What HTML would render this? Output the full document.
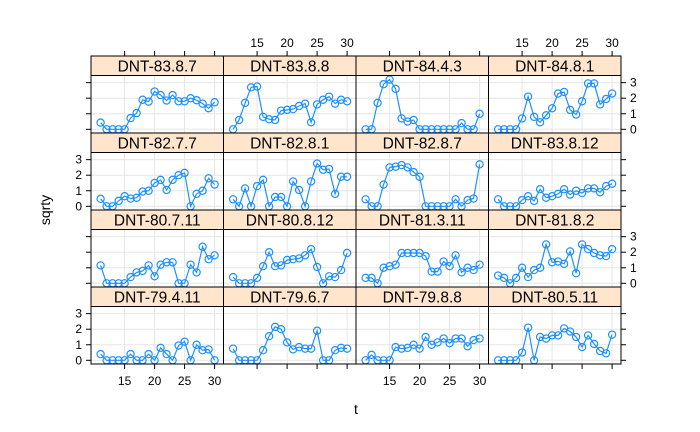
<!DOCTYPE html>
<html><head><meta charset="utf-8"><style>
body{margin:0;background:#fff;}
svg{display:block;font-family:"Liberation Sans",sans-serif;}
</style></head><body>
<svg id="chart" width="700" height="432" viewBox="0 0 700 432"></svg>
<script>
const tValues=[11,12,13,14,15,16,17,18,19,20,21,22,23,24,25,26,27,28,29,30];
const panelNames=["DNT-83.8.7","DNT-83.8.8","DNT-84.4.3","DNT-84.8.1","DNT-82.7.7","DNT-82.8.1","DNT-82.8.7","DNT-83.8.12","DNT-80.7.11","DNT-80.8.12","DNT-81.3.11","DNT-81.8.2","DNT-79.4.11","DNT-79.6.7","DNT-79.8.8","DNT-80.5.11"];
const s0=[0.43,0,0,0,0,0.72,1.04,1.9,1.78,2.43,2.2,1.85,2.2,1.8,1.8,2.0,1.87,1.65,1.35,1.74];
const s1=[0,0.6,1.7,2.7,2.75,0.8,0.65,0.6,1.2,1.25,1.3,1.5,1.65,0.45,1.6,1.9,2.1,1.65,1.9,1.8];
const s2=[0,0,1.7,2.9,3.2,2.6,0.7,0.5,0.6,0,0,0,0,0,0,0,0.4,0,0,1.0];
const s3=[0,0,0,0,0.7,2.1,0.8,0.45,0.9,1.35,2.3,2.4,1.25,0.95,1.8,2.95,2.95,1.6,1.95,2.3];
const s4=[0.48,0,0,0.35,0.65,0.5,0.55,0.95,1.0,1.5,1.7,1.05,1.7,2.0,2.15,0,0.8,1.0,1.8,1.4];
const s5=[0.45,0,1.15,0,1.3,1.7,0,0.6,0.6,0,1.6,1.05,0,1.6,2.75,2.35,2.4,0.8,1.9,1.9];
const s6=[0.45,0,0,1.4,2.5,2.55,2.65,2.5,2.2,1.9,0,0,0,0,0,0.45,0,0.4,0.5,2.7];
const s7=[0.45,0,0,0,0.4,0.65,0.35,1.1,0.55,0.65,0.8,1.1,0.75,1.0,0.85,1.15,1.15,0.9,1.3,1.45];
const s8=[1.15,0,0,0,0,0.4,0.7,0.8,1.15,0.45,1.2,1.35,1.35,0,0,1.2,0.7,2.35,1.55,1.8];
const s9=[0.4,0,0,0,0.35,1.1,2.0,1.1,1.15,1.5,1.55,1.6,1.8,2.2,1.05,0,0.45,0.4,0.85,1.95];
const s10=[0.35,0.35,0,1.0,1.1,1.2,1.95,1.95,1.95,1.95,1.75,0.75,0.75,1.4,1.1,1.8,0.7,1.0,0.85,1.2];
const s11=[0.5,0.35,0,0.35,1.0,0.4,0.85,1.0,2.5,1.35,1.4,1.25,2.05,0.65,2.5,2.2,1.95,1.8,1.75,2.2];
const s12=[0.4,0,0,0,0,0.4,0,0,0.4,0,0.8,0.4,0,0.95,1.2,0,1.0,0.65,0.7,0];
const s13=[0.75,0,0,0,0,0.65,1.55,2.15,2.0,1.15,0.7,0.85,0.75,0.75,1.9,0,0,0.65,0.8,0.75];
const s14=[0,0.35,0,0,0,0.85,0.75,0.8,1.0,0.75,1.5,1.0,1.15,1.4,1.1,1.4,1.4,0.9,1.3,1.4];
const s15=[0,0,0,0,0.5,2.1,0,1.5,1.4,1.6,1.6,2.05,1.85,1.5,0.85,1.6,1.05,0.6,0.45,1.65];
const series=[s0,s1,s2,s3,s4,s5,s6,s7,s8,s9,s10,s11,s12,s13,s14,s15];
const xTicks=[15,20,25,30];
const yTicks=[0,1,2,3];

const NS="http://www.w3.org/2000/svg";
const svg=document.getElementById('chart');
function mk(tag,attrs,parent){const e=document.createElementNS(NS,tag);for(const k in attrs)e.setAttribute(k,attrs[k]);(parent||svg).appendChild(e);return e;}
const L=91,PW=132.5,TOP=56,PITCH=77,SH=19.5,PH=57.5;
function xs(col,t){return L+col*PW+(t-9.4)*6;}
function ys(row,v){return TOP+row*PITCH+SH+PH-3.7-v*15.55;}
for(let i=0;i<16;i++){
  const row=Math.floor(i/4),col=i%4;
  const px=L+col*PW,sy=TOP+row*PITCH,py=sy+SH;
  const g=mk('g',{});
  
  
  xTicks.forEach(t=>{mk('line',{x1:xs(col,t),x2:xs(col,t),y1:py,y2:py+PH,stroke:'#e6e6e6','stroke-width':1},g);});
  yTicks.forEach(v=>{mk('line',{x1:px,x2:px+PW,y1:ys(row,v),y2:ys(row,v),stroke:'#e6e6e6','stroke-width':1},g);});
  const st=mk('rect',{x:px,y:sy,width:PW,height:SH,fill:'#ffe5cc',stroke:'#000','stroke-width':1},g);
  
  
  const tx=mk('text',{x:px+PW/2,y:sy+15.5,'text-anchor':'middle','font-size':15.5},g);
  tx.textContent=panelNames[i];
  
  
  const vals=series[i];
  const pts=vals.map((v,j)=>xs(col,tValues[j]).toFixed(1)+','+ys(row,v).toFixed(1)).join(' ');
  const pl=mk('polyline',{points:pts,fill:'none',stroke:'#1E90FF','stroke-width':1.2},g);
  
  
  vals.forEach((v,j)=>{
    const c=mk('circle',{cx:xs(col,tValues[j]),cy:ys(row,v),r:3.6,fill:'none',stroke:'#1E90FF','stroke-width':1.2},g);
    
    
  });
  mk('rect',{x:px,y:py,width:PW,height:PH,fill:'none',stroke:'#000','stroke-width':1},g);
}
for(let col=0;col<4;col++){
  xTicks.forEach(t=>{
    const x=xs(col,t);
    mk('line',{x1:x,x2:x,y1:TOP,y2:TOP-5,stroke:'#000'});
    mk('line',{x1:x,x2:x,y1:TOP+4*PITCH,y2:TOP+4*PITCH+5,stroke:'#000'});
    if(col%2===1){const tt=mk('text',{x:x,y:TOP-9,'text-anchor':'middle','font-size':12});tt.textContent=t;
      }
    if(col%2===0){const tb=mk('text',{x:x,y:TOP+4*PITCH+21,'text-anchor':'middle','font-size':12});tb.textContent=t;
      }
  });
}
for(let row=0;row<4;row++){
  yTicks.forEach(v=>{
    const y=ys(row,v);
    mk('line',{x1:L,x2:L-5,y1:y,y2:y,stroke:'#000'});
    mk('line',{x1:L+4*PW,x2:L+4*PW+5,y1:y,y2:y,stroke:'#000'});
    if(row%2===1){const a=mk('text',{x:L-9,y:y+4,'text-anchor':'end','font-size':12});a.textContent=v;
      }
    if(row%2===0){const b=mk('text',{x:L+4*PW+9,y:y+4,'text-anchor':'start','font-size':12});b.textContent=v;
      }
  });
}
const xt=mk('text',{x:L+2*PW,y:414,'text-anchor':'middle','font-size':14});xt.textContent='t';

const yt=mk('text',{x:0,y:0,'text-anchor':'middle','font-size':14,transform:'translate(50,210) rotate(-90)'});yt.textContent='sqrty';

</script>
</body></html>
